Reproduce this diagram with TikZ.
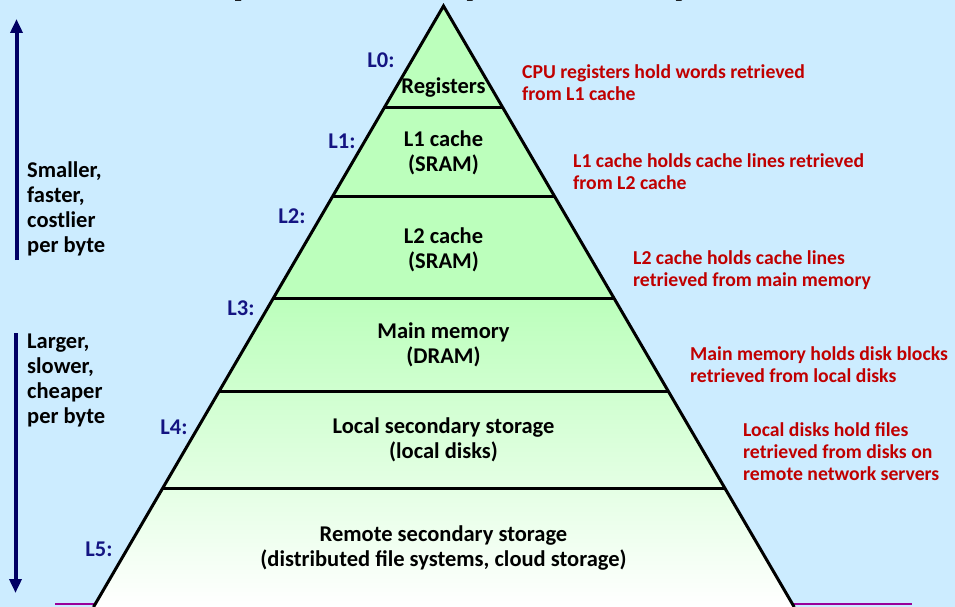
\documentclass[tikz,border=0pt]{standalone}
\usepackage{fontspec}
\setmainfont{Carlito}
\usetikzlibrary{arrows.meta,calc}
\definecolor{bg}{RGB}{204,236,255}
\definecolor{lvlgreen}{RGB}{188,255,188}
\definecolor{lvlpale}{RGB}{228,255,228}
\definecolor{note}{RGB}{192,0,0}
\definecolor{lvlblue}{RGB}{20,20,130}
\definecolor{navy}{RGB}{0,0,100}
\definecolor{rule}{RGB}{153,0,153}
% green at the top of the pyramid, fading to white towards its base
\pgfdeclareverticalshading{pyrfade}{100bp}{color(0bp)=(white); color(25bp)=(white); color(35bp)=(lvlpale); color(50.5bp)=(lvlgreen); color(100bp)=(lvlgreen)}
\begin{document}
\begin{tikzpicture}[x=1pt,y=-1pt,
  tier/.style={font=\bfseries\fontsize{22.5}{25}\selectfont, align=center, text=black, inner sep=0pt},
  lvl/.style={font=\bfseries\fontsize{22.5}{25}\selectfont, text=lvlblue, inner sep=0pt},
  notetext/.style={font=\bfseries\fontsize{19.7}{22}\selectfont, text=note, align=left, anchor=west, inner sep=0pt},
  side/.style={font=\bfseries\fontsize{22.5}{25}\selectfont, align=left, anchor=west, inner sep=0pt},
  tierline/.style={line width=3pt},
  flow/.style={navy, line width=4pt, -{Triangle[width=12pt,length=14pt]}}]
\useasboundingbox (0,0) rectangle (955,607);
\clip (0,0) rectangle (955,607);
\fill[bg] (0,0) rectangle (955,607);

% slide title, mostly above the visible area
\node[font=\bfseries\fontsize{50}{60}\selectfont, anchor=base, inner sep=0pt] (title) at (408,-6) {Example Memory Hierarchy};

% footer rule behind the pyramid
\draw[rule, line width=2pt] (55,603.7) -- (912,603.7);

% the pyramid
\coordinate (apex) at (443.5,6);
\coordinate (bl) at (93.5,607);
\coordinate (br) at (794.2,607);
\shade[shading=pyrfade] (apex) -- (bl) -- (br) -- cycle;
\draw[line width=3pt, line join=miter] (bl) -- (apex) -- (br);
\foreach \t in {0.1681,0.3178,0.4859,0.6406,0.8020}
  \draw[tierline] ($(apex)!\t!(bl)$) -- ($(apex)!\t!(br)$);

% level contents
\node[tier] (reg) at (443.5,88) {Registers};
\node[tier] (l1)  at (443.5,153) {L1 cache\\(SRAM)};
\node[tier] (l2)  at (443.5,250) {L2 cache\\(SRAM)};
\node[tier] (mm)  at (443.5,345) {Main memory\\(DRAM)};
\node[tier] (lss) at (443.5,440) {Local secondary storage\\(local disks)};
\node[tier] (rss) at (443.5,548) {Remote secondary storage\\(distributed file systems, cloud storage)};

% level labels
\node[lvl] (n0) at (381,60)  {L0:};
\node[lvl] (n1) at (342,141) {L1:};
\node[lvl] (n2) at (292,216) {L2:};
\node[lvl] (n3) at (241,308) {L3:};
\node[lvl] (n4) at (174,427) {L4:};
\node[lvl] (n5) at (99,549)  {L5:};

% what each level caches
\node[notetext] (c0) at (522,83)    {CPU registers hold words retrieved\\from L1 cache};
\node[notetext] (c1) at (573,172)   {L1 cache holds cache lines retrieved\\from L2 cache};
\node[notetext] (c2) at (633,270)   {L2 cache holds cache lines\\retrieved from main memory};
\node[notetext] (c3) at (690,364.5) {Main memory holds disk blocks\\retrieved from local disks};
\node[notetext] (c4) at (743,452)   {Local disks hold files\\retrieved from disks on\\remote network servers};

% trends along the hierarchy
\node[side] (up)   at (27,209) {Smaller,\\faster,\\costlier\\per byte};
\node[side] (down) at (27,380) {Larger,\\slower,\\cheaper\\per byte};
\coordinate (upfrom) at (16.5,260);
\coordinate (upto) at (16.5,19);
\coordinate (downfrom) at (15.5,333);
\coordinate (downto) at (15.5,593);
\draw[flow] (upfrom) -- (upto);
\draw[flow] (downfrom) -- (downto);
\end{tikzpicture}
\end{document}
